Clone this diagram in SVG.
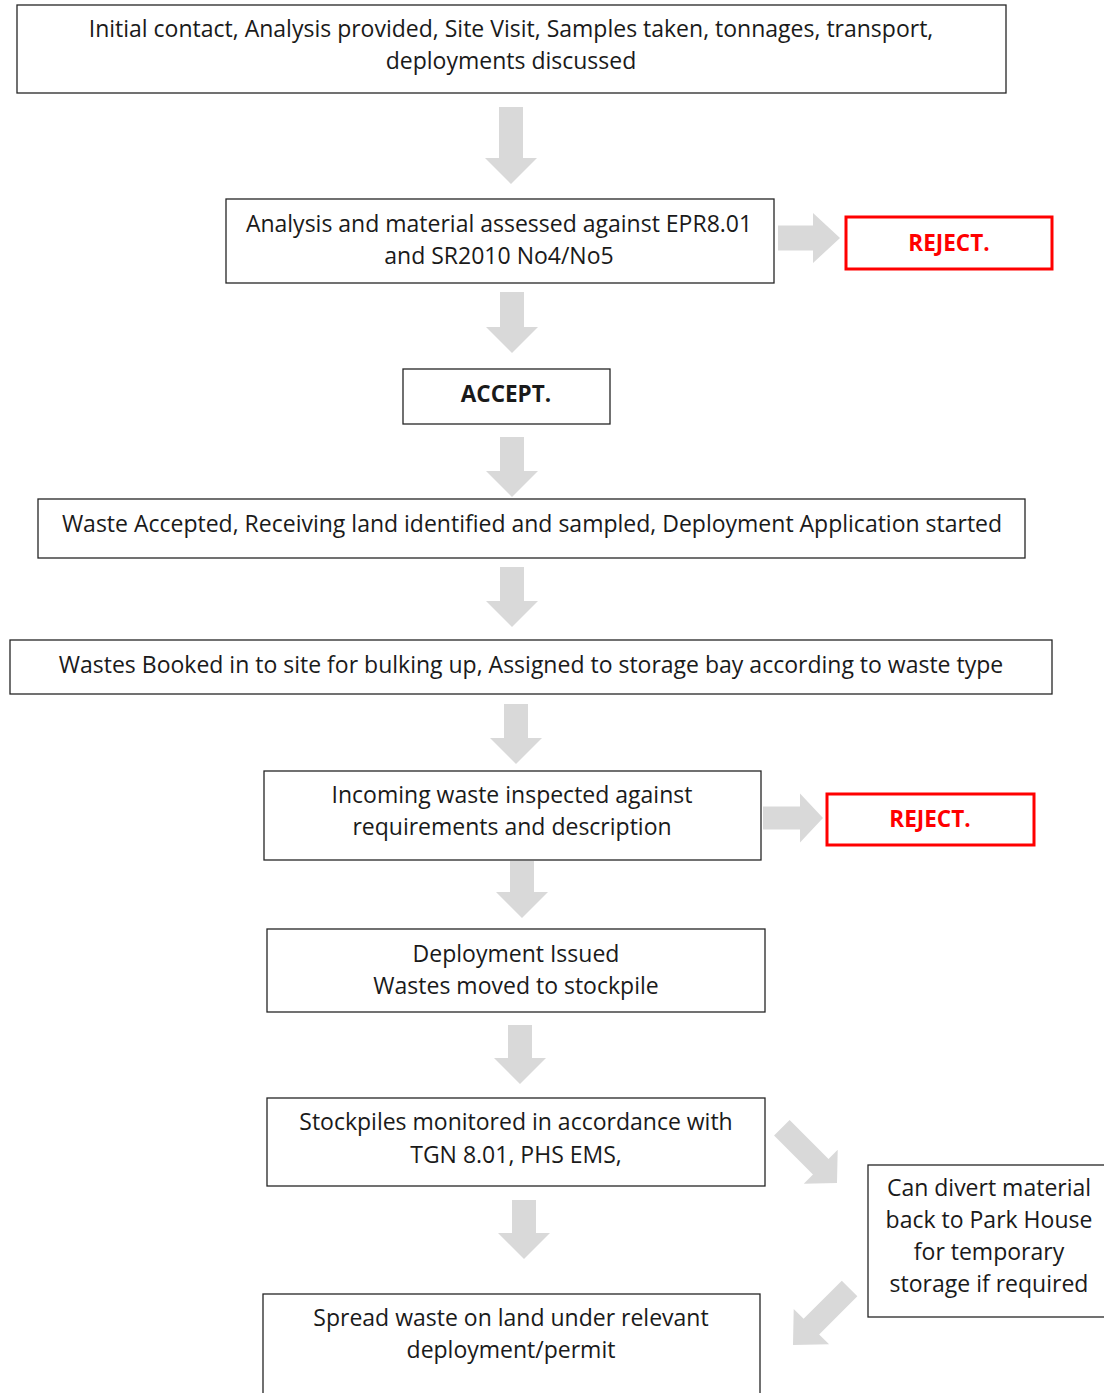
<svg xmlns="http://www.w3.org/2000/svg" width="1104" height="1393" viewBox="0 0 1104 1393">
<style>
.box{fill:#fff;stroke:#262626;stroke-width:1.3}
.rej{fill:#fff;stroke:#ff0000;stroke-width:3}
.t{font-family:"Open Sans","Noto Sans",sans-serif;font-size:23px;fill:#1a1a1a;text-anchor:middle}
.b{font-weight:bold;font-size:22.5px}
.r{fill:#ff0000}
.arr{fill:#d9d9d9}
</style>
<rect width="1104" height="1393" fill="#fff"/>
<g id="connectors">
<path class="arr" transform="translate(511,184) rotate(90)" d="M-77,-12 H-26 V-26 L0,0 L-26,26 V12 H-77 Z"/>
<path class="arr" transform="translate(840,238)" d="M-62,-12.5 H-27 V-25 L0,0 L-27,25 V12.5 H-62 Z"/>
<path class="arr" transform="translate(512,353) rotate(90)" d="M-61,-12 H-26 V-26 L0,0 L-26,26 V12 H-61 Z"/>
<path class="arr" transform="translate(512,497) rotate(90)" d="M-60,-12 H-26 V-26 L0,0 L-26,26 V12 H-60 Z"/>
<path class="arr" transform="translate(512,627) rotate(90)" d="M-60,-12 H-26 V-26 L0,0 L-26,26 V12 H-60 Z"/>
<path class="arr" transform="translate(516,764) rotate(90)" d="M-60,-12 H-26 V-26 L0,0 L-26,26 V12 H-60 Z"/>
<path class="arr" transform="translate(823,818)" d="M-60,-11.5 H-23 V-24.5 L0,0 L-23,24.5 V11.5 H-60 Z"/>
<path class="arr" transform="translate(522,918) rotate(90)" d="M-57,-12 H-26 V-26 L0,0 L-26,26 V12 H-57 Z"/>
<path class="arr" transform="translate(520,1084) rotate(90)" d="M-59,-12 H-26 V-26 L0,0 L-26,26 V12 H-59 Z"/>
<path class="arr" transform="translate(837,1183) rotate(45)" d="M-78,-11 H-23 V-24 L0,0 L-23,24 V11 H-78 Z"/>
<path class="arr" transform="translate(524,1259) rotate(90)" d="M-59,-12 H-26 V-26 L0,0 L-26,26 V12 H-59 Z"/>
<path class="arr" transform="translate(793,1345) rotate(135)" d="M-80,-11 H-26 V-25 L0,0 L-26,25 V11 H-80 Z"/>
</g>
<g id="n1">
<rect class="box" x="17" y="5" width="989" height="88"/>
<text class="t" x="511" y="37">Initial contact, Analysis provided, Site Visit, Samples taken, tonnages, transport,</text>
<text class="t" x="511" y="69">deployments discussed</text>
</g>
<g id="n2">
<rect class="box" x="226" y="199" width="548" height="84"/>
<text class="t" x="499" y="232">Analysis and material assessed against EPR8.01</text>
<text class="t" x="499" y="264">and SR2010 No4/No5</text>
</g>
<g id="reject1">
<rect class="rej" x="846" y="217" width="206" height="52"/>
<text class="t b r" x="949" y="251">REJECT.</text>
</g>
<g id="accept">
<rect class="box" x="403" y="369" width="207" height="55"/>
<text class="t b" x="506" y="402">ACCEPT.</text>
</g>
<g id="n4">
<rect class="box" x="38" y="499" width="987" height="59"/>
<text class="t" x="532" y="532">Waste Accepted, Receiving land identified and sampled, Deployment Application started</text>
</g>
<g id="n5">
<rect class="box" x="10" y="640" width="1042" height="54"/>
<text class="t" x="531" y="673">Wastes Booked in to site for bulking up, Assigned to storage bay according to waste type</text>
</g>
<g id="n6">
<rect class="box" x="264" y="771" width="497" height="89"/>
<text class="t" x="512" y="803">Incoming waste inspected against</text>
<text class="t" x="512" y="835">requirements and description</text>
</g>
<g id="reject2">
<rect class="rej" x="827" y="794" width="207" height="51"/>
<text class="t b r" x="930" y="827">REJECT.</text>
</g>
<g id="n7">
<rect class="box" x="267" y="929" width="498" height="83"/>
<text class="t" x="516" y="962">Deployment Issued</text>
<text class="t" x="516" y="994">Wastes moved to stockpile</text>
</g>
<g id="n8">
<rect class="box" x="267" y="1098" width="498" height="88"/>
<text class="t" x="516" y="1130">Stockpiles monitored in accordance with</text>
<text class="t" x="516" y="1163">TGN 8.01, PHS EMS,</text>
</g>
<g id="n9">
<rect class="box" x="868" y="1165" width="240" height="152"/>
<text class="t" x="989" y="1196">Can divert material</text>
<text class="t" x="989" y="1228">back to Park House</text>
<text class="t" x="989" y="1260">for temporary</text>
<text class="t" x="989" y="1292">storage if required</text>
</g>
<g id="n10">
<rect class="box" x="263" y="1294" width="497" height="110"/>
<text class="t" x="511" y="1326">Spread waste on land under relevant</text>
<text class="t" x="511" y="1358">deployment/permit</text>
</g>
</svg>
